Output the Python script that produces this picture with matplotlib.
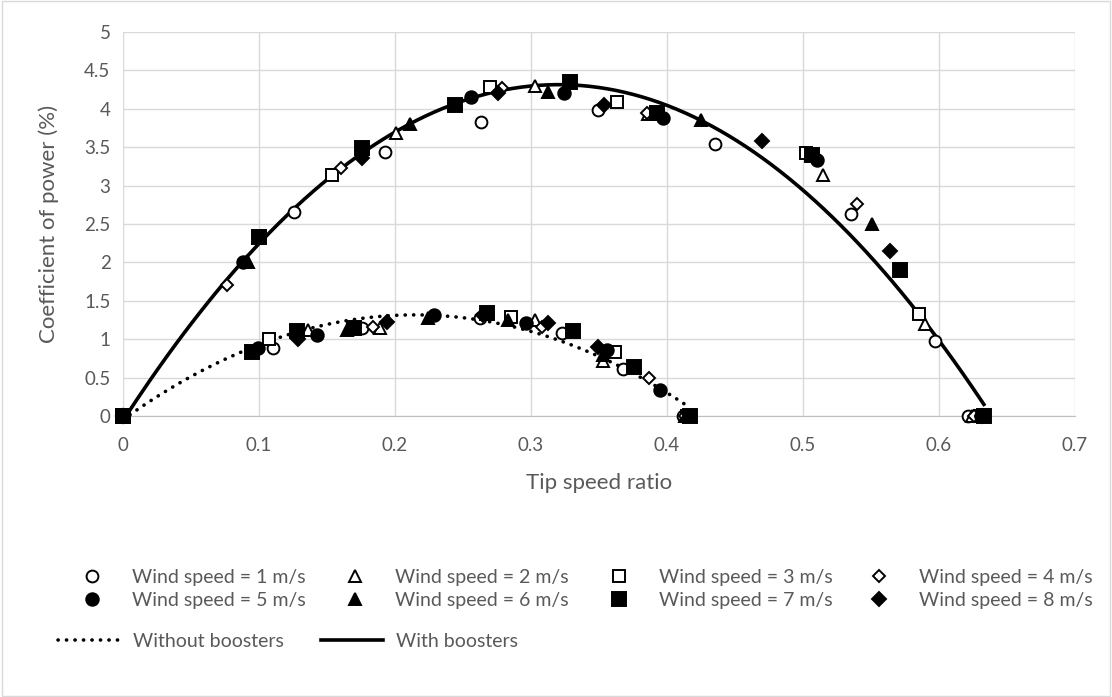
import numpy as np
import matplotlib.pyplot as plt
from matplotlib.lines import Line2D
from matplotlib.patches import Rectangle

plt.rcParams['font.family'] = ['Lato', 'DejaVu Sans']

speeds = [1, 2, 3, 4, 5, 6, 7, 8]

# tip speed ratio / Cp (%) with boosters
tsr_with_1 = [0, 0.126, 0.193, 0.263, 0.349, 0.435, 0.535, 0.597, 0.621]
cp_with_1 = [0, 2.66, 3.44, 3.83, 3.98, 3.54, 2.63, 0.98, 0]
tsr_with_2 = [0, 0.091, 0.201, 0.303, 0.386, 0.515, 0.590, 0.624]
cp_with_2 = [0, 2.02, 3.68, 4.30, 3.93, 3.14, 1.20, 0]
tsr_with_3 = [0, 0.154, 0.270, 0.363, 0.502, 0.585, 0.630]
cp_with_3 = [0, 3.14, 4.28, 4.09, 3.43, 1.33, 0]
tsr_with_4 = [0, 0.0765, 0.160, 0.279, 0.385, 0.540, 0.626]
cp_with_4 = [0, 1.71, 3.23, 4.27, 3.94, 2.76, 0]
tsr_with_5 = [0, 0.088, 0.256, 0.324, 0.397, 0.510, 0.631]
cp_with_5 = [0, 2.01, 4.15, 4.20, 3.88, 3.33, 0]
tsr_with_6 = [0, 0.092, 0.211, 0.3125, 0.425, 0.551, 0.632]
cp_with_6 = [0, 2.00, 3.80, 4.22, 3.85, 2.50, 0]
tsr_with_7 = [0, 0.100, 0.176, 0.244, 0.329, 0.393, 0.507, 0.571, 0.633]
cp_with_7 = [0, 2.33, 3.49, 4.05, 4.35, 3.94, 3.40, 1.90, 0]
tsr_with_8 = [0, 0.176, 0.276, 0.354, 0.470, 0.564, 0.632]
cp_with_8 = [0, 3.36, 4.20, 4.05, 3.58, 2.15, 0]

# tip speed ratio / Cp (%) without boosters
tsr_without_1 = [0, 0.110, 0.176, 0.2625, 0.323, 0.368, 0.412]
cp_without_1 = [0, 0.88, 1.14, 1.27, 1.08, 0.61, 0]
tsr_without_2 = [0, 0.136, 0.189, 0.303, 0.353, 0.413]
cp_without_2 = [0, 1.12, 1.14, 1.25, 0.72, 0]
tsr_without_3 = [0, 0.107, 0.170, 0.285, 0.362, 0.415]
cp_without_3 = [0, 1.00, 1.15, 1.29, 0.83, 0]
tsr_without_4 = [0, 0.184, 0.308, 0.387, 0.413]
cp_without_4 = [0, 1.16, 1.16, 0.49, 0]
tsr_without_5 = [0, 0.099, 0.143, 0.229, 0.296, 0.356, 0.395]
cp_without_5 = [0, 0.88, 1.05, 1.31, 1.21, 0.86, 0.34]
tsr_without_6 = [0, 0.165, 0.224, 0.283, 0.353, 0.414]
cp_without_6 = [0, 1.12, 1.27, 1.25, 0.80, 0]
tsr_without_7 = [0, 0.095, 0.128, 0.170, 0.268, 0.331, 0.376, 0.417]
cp_without_7 = [0, 0.83, 1.10, 1.15, 1.34, 1.10, 0.64, 0]
tsr_without_8 = [0, 0.129, 0.194, 0.265, 0.3125, 0.349]
cp_without_8 = [0, 1.00, 1.22, 1.32, 1.21, 0.90]

tsr_with = [tsr_with_1, tsr_with_2, tsr_with_3, tsr_with_4,
            tsr_with_5, tsr_with_6, tsr_with_7, tsr_with_8]
cp_with = [cp_with_1, cp_with_2, cp_with_3, cp_with_4,
           cp_with_5, cp_with_6, cp_with_7, cp_with_8]
tsr_without = [tsr_without_1, tsr_without_2, tsr_without_3, tsr_without_4,
               tsr_without_5, tsr_without_6, tsr_without_7, tsr_without_8]
cp_without = [cp_without_1, cp_without_2, cp_without_3, cp_without_4,
              cp_without_5, cp_without_6, cp_without_7, cp_without_8]

markers = ['o', '^', 's', 'D', 'o', '^', 's', 'D']
filled = [False, False, False, False, True, True, True, True]
msizes = [8.5, 8.5, 9, 6.5, 9, 9, 9.5, 7]

grey = '#595959'

fig = plt.figure(figsize=(11.12, 6.97), dpi=100)
fig.patches.append(Rectangle((0.002, 0.002), 0.996, 0.996, transform=fig.transFigure,
                             fill=False, edgecolor='#d9d9d9', linewidth=1))
ax = fig.add_axes([0.1106, 0.4032, 0.8561, 0.5509])

# 2nd order polynomial trend lines, as in the spreadsheet chart
def trend(xs, ys):
    x = np.concatenate([np.asarray(v) for v in xs])
    y = np.concatenate([np.asarray(v) for v in ys])
    c = np.polyfit(x, y, 2)
    xx = np.linspace(0, x.max(), 200)
    return xx, np.polyval(c, xx)

dotted = (0, (0.05, 2.3))
xx, yy = trend(tsr_without, cp_without)
ax.plot(xx, yy, color='black', lw=2.6, linestyle=dotted,
        dash_capstyle='round', zorder=3)
xx, yy = trend(tsr_with, cp_with)
ax.plot(xx, yy, color='black', lw=2.6, zorder=3)

handles = []
for i in range(8):
    fc = 'black' if filled[i] else 'white'
    xs = tsr_with[i] + tsr_without[i]
    ys = cp_with[i] + cp_without[i]
    ax.plot(xs, ys, linestyle='none', marker=markers[i], ms=msizes[i],
            mfc=fc, mec='black', mew=1.4, zorder=4, clip_on=False)
    handles.append(Line2D([], [], linestyle='none', marker=markers[i], ms=msizes[i],
                          mfc=fc, mec='black', mew=1.4,
                          label=f'Wind speed = {speeds[i]} m/s'))

ax.set_xlim(0, 0.7)
ax.set_ylim(0, 5)
ax.set_xticks(np.arange(0, 0.71, 0.1))
ax.set_xticklabels(['0', '0.1', '0.2', '0.3', '0.4', '0.5', '0.6', '0.7'])
ax.set_yticks(np.arange(0, 5.01, 0.5))
ax.set_yticklabels(['0', '0.5', '1', '1.5', '2', '2.5', '3', '3.5', '4', '4.5', '5'])
ax.grid(True, color='#d9d9d9', linewidth=1)
ax.set_axisbelow(True)
for s in ['top', 'right', 'left']:
    ax.spines[s].set_visible(False)
ax.spines['bottom'].set_color('#bfbfbf')
ax.tick_params(axis='y', length=0, labelsize=13.5, colors=grey, pad=9)
ax.tick_params(axis='x', length=0, labelsize=13.5, colors=grey, pad=15.5)
ax.set_xlabel('Tip speed ratio', fontsize=16, color=grey)
ax.set_ylabel('Coefficient of power (%)', fontsize=16, color=grey)
ax.xaxis.set_label_coords(0.5, -0.149)
ax.yaxis.set_label_coords(-0.067, 0.5)

# legend: four columns of two markers each
col_x = [0.0740, 0.3105, 0.548, 0.7817]
for j in range(4):
    fig.legend(handles=[handles[j], handles[j + 4]], loc='upper left',
               bbox_to_anchor=(col_x[j], 0.184), frameon=False, fontsize=14,
               labelcolor=grey, handlelength=1.0, handletextpad=1.56,
               labelspacing=0.33, borderpad=0, borderaxespad=0)

line_handles = [Line2D([], [], color='black', lw=2.6, linestyle=dotted,
                       dash_capstyle='round', label='Without boosters'),
                Line2D([], [], color='black', lw=2.6, label='With boosters')]
fig.legend(handles=line_handles, loc='upper left', bbox_to_anchor=(0.0522, 0.0918),
           frameon=False, fontsize=14, labelcolor=grey, ncol=2, handlelength=3.2,
           handletextpad=0.67, columnspacing=1.9, borderpad=0, borderaxespad=0)

fig.savefig('out.png', dpi=100)
